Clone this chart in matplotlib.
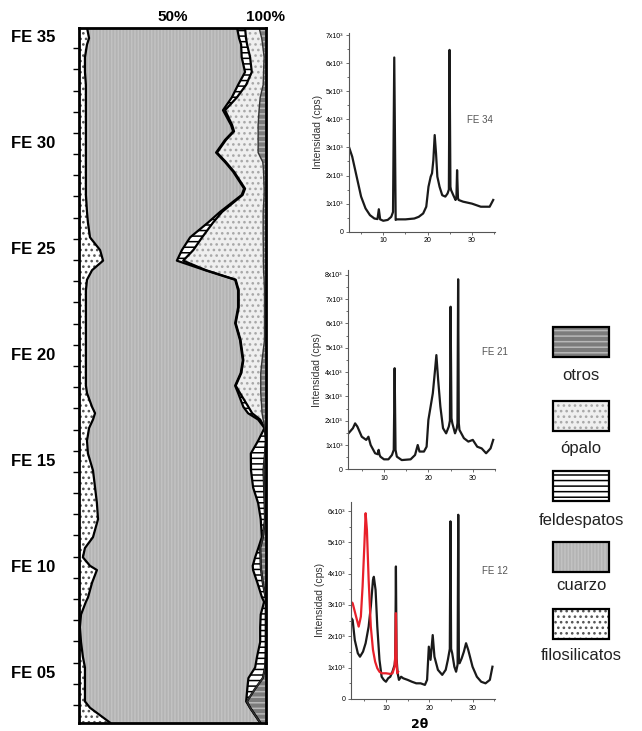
import numpy as np
import matplotlib.pyplot as plt
from matplotlib.patches import Rectangle

plt.rcParams['font.family'] = ['Liberation Sans', 'DejaVu Sans']
plt.rcParams['hatch.linewidth'] = 1.1

# perfil: posición (nº de muestra) y % de cada fase
muestra = [35.4, 34.9, 34.6, 34.0, 33.3, 32.7, 32.1, 31.5, 30.8, 30.5,
           30.1, 29.5, 29.05, 28.6, 27.8, 27.5, 26.7, 26.2, 25.5, 24.9,
           24.4, 23.95, 23.5, 23.0, 22.2, 21.45, 20.65, 19.7, 19.1, 18.5,
           18.15, 17.5, 17.2, 16.9, 16.5, 15.9, 15.3, 14.5, 13.7, 12.96,
           12.2, 11.35, 10.84, 10.4, 10.0, 9.8, 9.2, 8.5, 8.3, 7.7,
           7.1, 6.4, 5.7, 5.2, 4.7, 4.2, 3.6, 3.3, 2.6]
filosilicatos = [4.3, 5.4, 4.3, 3.2, 3.2, 3.7, 3.7, 3.7, 3.7, 3.7,
                 3.7, 3.7, 3.7, 3.7, 3.7, 3.7, 4.3, 4.8, 5.9, 11.3,
                 12.9, 7.0, 4.3, 3.7, 3.7, 3.7, 3.7, 3.7, 3.7, 3.7,
                 4.3, 7.0, 8.6, 7.5, 5.4, 4.3, 4.8, 7.5, 8.6, 9.6,
                 10.2, 7.5, 3.2, 2.1, 5.9, 9.6, 7.0, 4.8, 3.7, 1.1,
                 0.5, 1.1, 2.1, 3.2, 3.2, 3.2, 3.2, 5.9, 16.6]
cuarzo = [80.3, 80.3, 82.5, 83.9, 85.7, 81.5, 78.1, 73.4, 77.7, 78.8,
          74.5, 69.7, 74.5, 78.8, 84.7, 83.4, 71.2, 64.3, 53.6, 43.8,
          39.5, 60.5, 79.3, 81.5, 81.5, 79.9, 82.5, 84.0, 82.9, 79.9,
          80.9, 81.0, 81.9, 88.4, 93.9, 91.6, 87.2, 84.6, 84.6, 86.3,
          87.1, 90.4, 92.8, 92.2, 87.1, 83.6, 88.5, 93.2, 95.4, 96.2,
          96.5, 95.9, 93.2, 91.1, 87.5, 86.9, 86.3, 85.7, 80.4]
feldespatos = [4.3, 3.7, 3.2, 4.5, 3.6, 4.3, 2.7, 1.1, 0.6, 0.5,
               0.5, 0.5, 0.5, 0.5, 0.5, 0.5, 1.1, 2.7, 6.4, 6.1,
               3.4, 0.5, 0.3, 0.3, 0.3, 0.3, 0.3, 0.3, 0.3, 0.3,
               1.0, 2.7, 2.2, 1.1, 0.2, 4.1, 7.6, 6.7, 5.9, 3.5,
               2.3, 0.5, 1.0, 2.9, 4.3, 4.3, 2.9, 1.9, 0.9, 2.7,
               3.0, 3.0, 4.6, 5.3, 7.7, 4.2, 0.4, 0.0, 0.0]
opalo = [7.5, 8.4, 8.3, 7.5, 6.3, 9.1, 12.5, 18.2, 13.9, 12.9,
         17.2, 22.0, 19.7, 15.8, 10.2, 11.5, 22.0, 26.8, 32.7, 37.5,
         42.9, 30.8, 15.2, 13.8, 13.8, 15.4, 12.8, 10.0, 10.4, 13.4,
         11.1, 7.1, 5.3, 1.6, 0.1, 0.0, 0.0, 0.0, 0.0, 0.0,
         0.0, 0.0, 0.0, 0.0, 0.0, 0.0, 0.0, 0.0, 0.0, 0.0,
         0.0, 0.0, 0.0, 0.0, 0.0, 0.0, 0.0, 0.0, 0.0]
otros = [3.6, 2.1, 1.7, 0.9, 1.2, 1.4, 3.0, 3.6, 4.1, 4.1,
         4.1, 4.1, 1.6, 1.2, 0.9, 0.9, 1.4, 1.4, 1.4, 1.4,
         1.4, 1.2, 0.9, 0.75, 0.75, 0.75, 0.75, 2.0, 2.7, 2.7,
         2.7, 2.25, 2.0, 1.4, 0.4, 0.0, 0.4, 1.2, 0.9, 0.6,
         0.4, 1.6, 3.0, 2.8, 2.7, 2.5, 1.6, 0.1, 0.0, 0.0,
         0.0, 0.0, 0.1, 0.4, 1.6, 5.7, 10.2, 8.4, 3.0]

etiquetas_y = ['FE 35', 'FE 30', 'FE 25', 'FE 20', 'FE 15', 'FE 10', 'FE 05']
valores_y = [35, 30, 25, 20, 15, 10, 5]

# difractogramas (2θ, intensidad en unidades de 10^3 cps del eje)
fe34_2t = [2.3, 3, 4, 5, 6, 7, 8, 8.7, 9.0, 9.3, 10, 11, 11.8, 12.2, 12.48, 12.8,
           13, 15, 17, 18, 19, 19.7, 20.2, 20.7, 21, 21.3, 21.6, 21.9, 22.2, 22.7,
           23.3, 24, 24.5, 24.8, 24.95, 25.15, 25.3, 25.8, 26.3, 26.5, 26.65, 26.85,
           27, 28, 30, 32, 34, 34.8]
fe34_i = [3.0, 2.67, 1.96, 1.25, 0.83, 0.59, 0.47, 0.45, 0.8, 0.44, 0.39, 0.42, 0.53,
          0.7, 6.2, 0.42, 0.44, 0.44, 0.47, 0.53, 0.65, 0.89, 1.6, 1.96, 2.08, 2.55,
          3.44, 2.79, 1.96, 1.6, 1.3, 1.25, 1.36, 1.5, 6.47, 1.6, 1.48, 1.3, 1.13,
          1.2, 2.19, 1.2, 1.13, 1.07, 1.0, 0.89, 0.89, 1.13]

fe21_2t = [2.0, 3, 3.5, 4, 5, 6, 6.5, 7, 8, 8.6, 8.8, 9.0, 9.2, 10, 11, 11.8, 12.2,
           12.4, 12.6, 12.9, 14, 16, 17, 17.6, 18, 19, 19.6, 20, 20.5, 21, 21.5, 21.8,
           22.2, 22.7, 23.3, 24, 24.6, 24.85, 25.0, 25.2, 25.4, 26, 26.4, 26.55, 26.7,
           26.85, 27.0, 28, 29, 30, 31, 32, 33, 34, 34.6]
fe21_i = [1.48, 1.69, 1.89, 1.76, 1.34, 1.21, 1.34, 1.0, 0.66, 0.62, 0.8, 0.6, 0.52,
          0.41, 0.41, 0.59, 0.8, 4.16, 0.8, 0.52, 0.38, 0.41, 0.59, 1.0, 0.73, 0.73,
          0.93, 2.03, 2.58, 3.13, 4.09, 4.7, 3.68, 2.58, 1.69, 1.48, 1.76, 2.0, 6.69,
          2.1, 1.89, 1.48, 1.69, 1.9, 7.82, 1.9, 1.62, 1.28, 1.14, 1.21, 0.93, 0.86,
          0.66, 0.86, 1.21]

fe12_2t = [1.9, 2.3, 2.8, 3.5, 4, 4.7, 5.3, 6, 6.5, 7, 7.2, 7.6, 8, 8.5, 9, 9.5,
           10, 10.5, 11, 11.5, 12, 12.15, 12.3, 12.45, 12.7, 13, 13.5, 14, 15, 16,
           17, 18, 19, 19.5, 19.9, 20.3, 20.8, 21.2, 22, 23, 23.8, 24.3, 24.75, 24.9,
           25.05, 25.3, 25.8, 26.2, 26.55, 26.7, 26.85, 27, 27.5, 28, 28.5, 29, 30,
           31, 32, 33, 34, 34.6]
fe12_i = [2.6, 2.52, 1.88, 1.46, 1.35, 1.51, 1.78, 2.31, 2.95, 3.8, 3.9, 3.48, 2.31,
          1.25, 0.71, 0.61, 0.55, 0.66, 0.71, 0.87, 1.09, 1.3, 4.23, 1.3, 0.82, 0.61,
          0.71, 0.66, 0.61, 0.55, 0.5, 0.5, 0.45, 0.61, 1.67, 1.25, 2.04, 1.35, 0.93,
          0.77, 0.93, 1.25, 1.6, 5.67, 1.6, 1.46, 1.03, 0.87, 1.1, 5.88, 1.2, 1.14,
          1.3, 1.51, 1.78, 1.57, 1.03, 0.71, 0.55, 0.5, 0.61, 1.03]
fe12g_2t = [1.9, 2.3, 2.8, 3.3, 3.7, 4.2, 4.6, 5.0, 5.3, 5.6, 6, 6.5, 7, 7.5, 8,
            8.5, 9, 10, 11, 11.5, 12, 12.15, 12.3, 12.45, 12.6, 12.8]
fe12g_i = [3.1, 3.06, 2.79, 2.52, 2.31, 2.63, 3.59, 4.87, 5.93, 5.4, 3.8, 2.31, 1.57,
           1.19, 0.98, 0.87, 0.82, 0.82, 0.8, 0.82, 1.03, 1.4, 2.74, 1.2, 0.82, 0.87]

fases = ['filosilicatos', 'cuarzo', 'feldespatos', 'ópalo', 'otros']
estilos = {
    'filosilicatos': dict(facecolor='white', hatch='...', edgecolor='#555555'),
    'cuarzo': dict(facecolor='#b3b3b3', hatch='|||||', edgecolor='#c2c2c2'),
    'feldespatos': dict(facecolor='white', hatch='---', edgecolor='black'),
    'ópalo': dict(facecolor='#efefef', hatch='...', edgecolor='#a8a8a8'),
    'otros': dict(facecolor='#7c7c7c', hatch='---', edgecolor='#b8b8b8'),
}

fig = plt.figure(figsize=(6.42, 7.31), dpi=100)

# ---- perfil de composición ----
ax = fig.add_axes([0.123, 0.0109, 0.291, 0.9508])
valores = [filosilicatos, cuarzo, feldespatos, opalo, otros]
y = np.array(muestra)
izq = np.zeros(len(y))
for nombre, v in zip(fases, valores):
    der = izq + np.array(v)
    ax.fill_betweenx(y, izq, der, linewidth=0, **estilos[nombre])
    izq = der
cum = np.cumsum(np.array(valores), axis=0)
for k in range(3):
    ax.plot(cum[k], y, color='black', lw=1.6, solid_joinstyle='round')
ax.plot(cum[3], y, color='#333333', lw=1.0)

ax.set_xlim(0, 100)
ax.set_ylim(2.58, 35.38)
ax.xaxis.tick_top()
ax.set_xticks([50, 100])
ax.set_xticklabels(['50%', '100%'], fontsize=11, fontweight='bold')
ax.tick_params(axis='x', length=0, pad=3)
ax.set_yticks(valores_y)
ax.set_yticklabels(etiquetas_y, fontsize=12, fontweight='bold')
ax.set_yticks(np.arange(3, 35) + 0.43, minor=True)
ax.tick_params(axis='y', which='major', length=0, pad=17)
ax.tick_params(axis='y', which='minor', length=4, width=1, direction='out')
for s in ax.spines.values():
    s.set_linewidth(2)

# ---- difractogramas ----
paneles = [
    ([0.5436, 0.683, 0.2274, 0.2718], (2.27, 35.2), 7.07, 7, fe34_2t, fe34_i, 'FE 34', (31.8, 3.97)),
    ([0.5425, 0.358, 0.2285, 0.2726], (1.96, 35.0), 8.2, 8, fe21_2t, fe21_i, 'FE 21', (35.0, 4.83)),
    ([0.5463, 0.0438, 0.2248, 0.270], (1.86, 35.2), 6.3, 6, fe12_2t, fe12_i, 'FE 12', (35.1, 4.1)),
]
axs = []
for rect, xl, ytop, nmax, tx, ti, nombre, pos in paneles:
    a = fig.add_axes(rect)
    a.plot(tx, ti, color='#1a1a1a', lw=1.6)
    a.set_xlim(*xl)
    a.set_ylim(0, ytop)
    a.spines['top'].set_visible(False)
    a.spines['right'].set_visible(False)
    for s in ['left', 'bottom']:
        a.spines[s].set_linewidth(0.8)
        a.spines[s].set_color('#555555')
    a.set_xticks([10, 20, 30])
    a.set_xticks([5, 15, 25, 35], minor=True)
    a.set_yticks(range(nmax + 1))
    a.set_yticklabels(['0'] + [f'{i}x10³' for i in range(1, nmax + 1)])
    a.set_yticks(np.arange(0.5, nmax, 1.0), minor=True)
    a.tick_params(which='both', labelsize=5, length=2.5, width=0.6, color='#555555', pad=1.5)
    a.tick_params(which='minor', length=1.5)
    a.set_ylabel('Intensidad (cps)', fontsize=7.5, color='#333333', labelpad=2)
    a.text(pos[0], pos[1], nombre, fontsize=7, color='#555555', ha='center', va='center',
           clip_on=False)
    axs.append(a)
axs[2].plot(fe12g_2t, fe12g_i, color='#e8202a', lw=1.6)
fig.text(420 / 642, 1 - 725 / 731, '2θ', fontsize=9, fontweight='bold',
         ha='center', va='center', family=['DejaVu Sans'])

# ---- leyenda ----
cajas = {'otros': 327, 'ópalo': 401, 'feldespatos': 471, 'cuarzo': 542, 'filosilicatos': 609}
textos_y = {'otros': 376, 'ópalo': 448, 'feldespatos': 521, 'cuarzo': 585, 'filosilicatos': 656}
for nombre in ['otros', 'ópalo', 'feldespatos', 'cuarzo', 'filosilicatos']:
    y0 = cajas[nombre]
    r = Rectangle((553 / 642, 1 - (y0 + 30) / 731), 56 / 642, 30 / 731,
                  transform=fig.transFigure, linewidth=0, **estilos[nombre])
    fig.add_artist(r)
    fig.add_artist(Rectangle((553 / 642, 1 - (y0 + 30) / 731), 56 / 642, 30 / 731,
                             transform=fig.transFigure, fill=False,
                             edgecolor='black', linewidth=1.6))
    fig.text(581 / 642, 1 - textos_y[nombre] / 731, nombre, fontsize=12,
             ha='center', va='center', color='#222222')

fig.savefig('out.png', dpi=100)
